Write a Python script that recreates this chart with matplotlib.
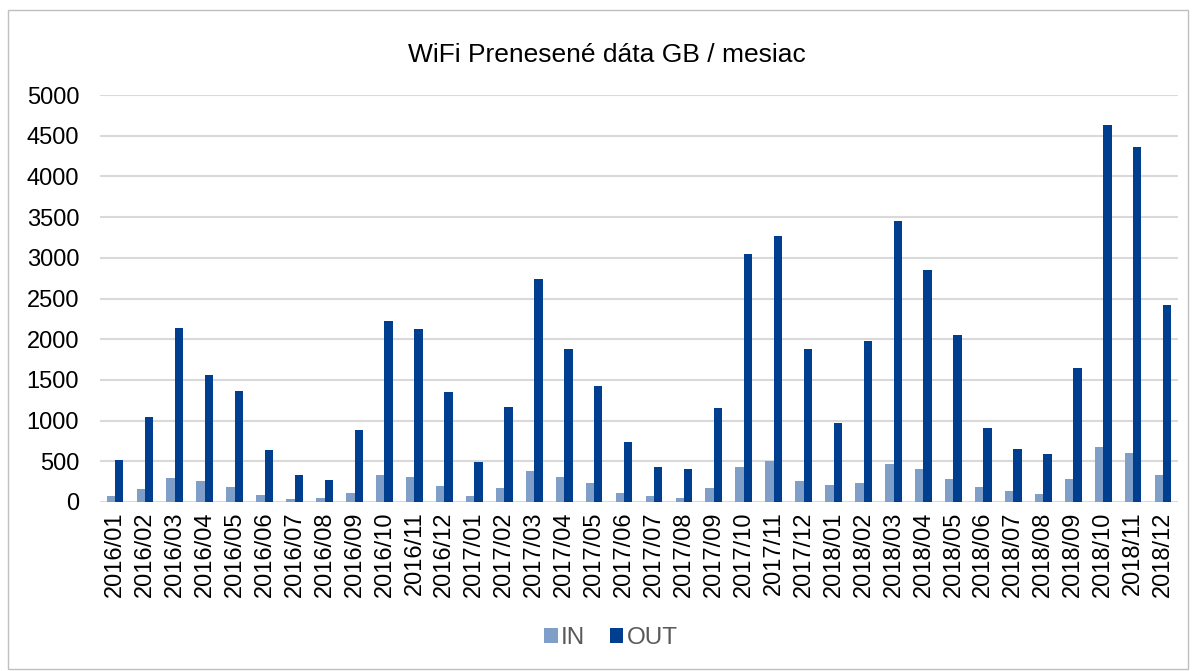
import matplotlib.pyplot as plt
from matplotlib.patches import Rectangle
import numpy as np

plt.rcParams['font.family'] = ['Liberation Sans', 'DejaVu Sans']

# monthly data, GB
months = [f'{y}/{m:02d}' for y in (2016, 2017, 2018) for m in range(1, 13)]
traffic_in = [70, 160, 295, 254, 184, 82, 33, 49, 115, 332, 311, 193,
              70, 176, 381, 303, 234, 107, 70, 45, 168, 430, 500, 262,
              205, 230, 463, 406, 279, 189, 131, 94, 283, 680, 602, 328]
traffic_out = [520, 1041, 2139, 1557, 1369, 635, 336, 275, 881, 2225, 2131, 1352,
               492, 1168, 2738, 1885, 1430, 734, 430, 406, 1156, 3041, 3266, 1877,
               967, 1980, 3447, 2844, 2057, 914, 652, 594, 1643, 4627, 4365, 2426]

in_color = '#7F9FC8'
out_color = '#003F8F'

fig = plt.figure(figsize=(11.94, 6.71), dpi=100)
ax = fig.add_axes([100 / 1194, 1 - 502 / 671, 1078 / 1194, 407 / 671])

x = np.arange(len(months))
w = 0.28
ax.bar(x - w / 2, traffic_in, w, color=in_color, label='IN', zorder=3)
ax.bar(x + w / 2, traffic_out, w, color=out_color, label='OUT', zorder=3)

ax.set_xlim(-0.5, len(months) - 0.5)
ax.set_ylim(0, 5000)
ax.set_yticks(range(0, 5001, 500))
ax.set_xticks(x)
ax.set_xticklabels(months, rotation=90)
ax.tick_params(axis='both', length=0, labelsize=17, colors='black')
ax.tick_params(axis='x', pad=7)
ax.tick_params(axis='y', pad=15)

ax.yaxis.grid(True, color='#D9D9D9', linewidth=1.5, zorder=0)
for s in ax.spines.values():
    s.set_visible(False)

fig.text(607 / 1194, 1 - 62 / 671, 'WiFi Prenesené dáta GB / mesiac', ha='center', va='baseline',
         fontsize=19, color='#000000')

leg = fig.legend(loc='center', bbox_to_anchor=(611 / 1194, 1 - 638 / 671), ncol=2, frameon=False,
                 fontsize=17.5, handlelength=0.55, handleheight=0.55, handletextpad=0.15,
                 columnspacing=1.0)
for t in leg.get_texts():
    t.set_color('#595959')

# chart area border
fig.patches.append(Rectangle((8 / 1194, 2 / 671), 1180 / 1194, 659 / 671,
                             transform=fig.transFigure, fill=False,
                             edgecolor='#BFBFBF', linewidth=1))

fig.savefig('out.png', dpi=100)
